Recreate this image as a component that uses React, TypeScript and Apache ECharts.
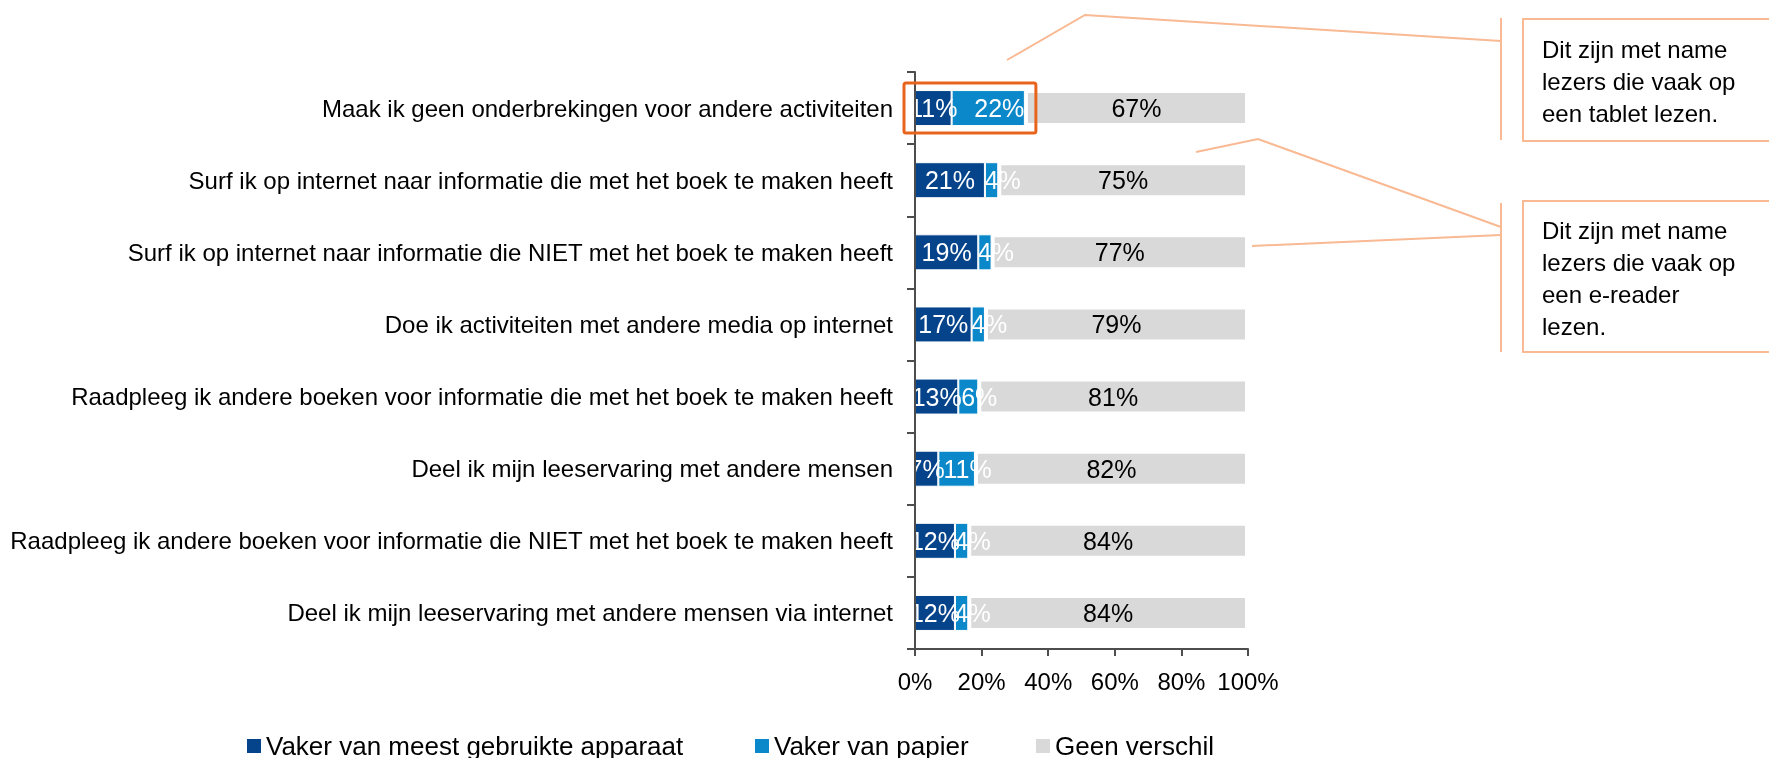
import React, { useEffect, useRef } from "react";
import * as echarts from "echarts";

const categories = [
  "Maak ik geen onderbrekingen voor andere activiteiten",
  "Surf ik op internet naar informatie die met het boek te maken heeft",
  "Surf ik op internet naar informatie die NIET met het boek te maken heeft",
  "Doe ik activiteiten met andere media op internet",
  "Raadpleeg ik andere boeken voor informatie die met het boek te maken heeft",
  "Deel ik mijn leeservaring met andere mensen",
  "Raadpleeg ik andere boeken voor informatie die NIET met het boek te maken heeft",
  "Deel ik mijn leeservaring met andere mensen via internet",
];
const seriesNames = ["Vaker van meest gebruikte apparaat", "Vaker van papier", "Geen verschil"];
const apparaat = [11, 21, 19, 17, 13, 7, 12, 12];
const papier = [22, 4, 4, 4, 6, 11, 4, 4];
const geenVerschil = [67, 75, 77, 79, 81, 82, 84, 84];
const xTicks = [0, 20, 40, 60, 80, 100];
const noteTablet = ["Dit zijn met name", "lezers die vaak op", "een tablet lezen."];
const noteEreader = ["Dit zijn met name", "lezers die vaak op", "een e-reader", "lezen."];

const FONT = '"Liberation Sans", Arial, sans-serif';
const DARK = "#05448B";
const MID = "#0A88CA";
const GRAY = "#D9D9D9";
const PEACH = "#F8B993";
const ORANGE = "#E8641C";
const GRID_LEFT = 915;

export default function App() {
  const ref = useRef<HTMLDivElement>(null);
  useEffect(() => {
    document.body.style.margin = "0";
    const chart = echarts.init(ref.current!, null, { renderer: "svg" });
    const labelBase = { show: true, position: "inside", fontSize: 25, fontFamily: FONT, formatter: "{c}%" };
    chart.setOption({
      animation: false,
      grid: { left: GRID_LEFT, right: 521, top: 72, bottom: 109, containLabel: false },
      xAxis: {
        type: "value",
        min: xTicks[0],
        max: xTicks[xTicks.length - 1],
        interval: 20,
        axisLine: { show: true, lineStyle: { color: "#4d4d4d", width: 2 } },
        axisTick: { show: true, length: 7, lineStyle: { color: "#4d4d4d", width: 2 } },
        splitLine: { show: false },
        axisLabel: { formatter: "{value}%", fontSize: 24, fontFamily: FONT, color: "#000", margin: 20 },
      },
      yAxis: {
        type: "category",
        data: categories,
        inverse: true,
        z: 5,
        axisLine: { show: true, lineStyle: { color: "#4d4d4d", width: 2 } },
        axisTick: { show: true, length: 8, lineStyle: { color: "#4d4d4d", width: 2 } },
        axisLabel: { fontSize: 24, fontFamily: FONT, color: "#000", margin: 22 },
      },
      legend: [0, 1, 2].map((i) => ({
        data: [seriesNames[i]],
        left: [247, 755, 1036][i],
        top: 733,
        padding: 0,
        icon: "rect",
        itemWidth: 14,
        itemHeight: 14,
        itemGap: 0,
        itemTextGap: 5,
        itemStyle: { borderWidth: 0 },
        textStyle: { fontSize: 26, fontFamily: FONT, color: "#000" },
      })),
      series: [
        {
          name: seriesNames[0],
          type: "bar",
          stack: "total",
          barWidth: 36,
          data: apparaat,
          itemStyle: { color: DARK, borderColor: "#fff", borderWidth: 1 },
          label: { ...labelBase, color: "#fff" },
          labelLayout: (params: any) => {
            const r = params.labelRect;
            const minX = GRID_LEFT - 3;
            return r && r.x < minX ? { dx: minX - r.x } : {};
          },
        },
        {
          name: seriesNames[1],
          type: "bar",
          stack: "total",
          barWidth: 36,
          data: papier,
          itemStyle: { color: MID, borderColor: "#fff", borderWidth: 1 },
          label: { ...labelBase, color: "#fff", offset: [11, 0] },
        },
        {
          name: seriesNames[2],
          type: "bar",
          stack: "total",
          barWidth: 36,
          data: geenVerschil,
          itemStyle: { color: GRAY, borderColor: "#fff", borderWidth: 3 },
          label: { ...labelBase, color: "#000" },
        },
      ],
    });

    const x0 = chart.convertToPixel({ xAxisIndex: 0 }, 0) as number;
    const x1 = chart.convertToPixel({ xAxisIndex: 0 }, apparaat[0] + papier[0]) as number;
    const yc = chart.convertToPixel({ yAxisIndex: 0 }, categories[0]) as number;

    const line = (points: number[][]) => ({
      type: "polyline",
      shape: { points },
      style: { stroke: PEACH, lineWidth: 2, fill: null },
      silent: true,
    });
    const noteText = (lines: string[], x: number, y: number) => ({
      type: "text",
      x,
      y,
      style: {
        text: lines.join("\n"),
        fontSize: 24,
        fontFamily: FONT,
        fill: "#000",
        lineHeight: 32,
        verticalAlign: "top",
      },
      silent: true,
    });

    chart.setOption({
      graphic: [
        {
          type: "rect",
          shape: { x: x0 - 11, y: yc - 25, width: x1 - x0 + 22, height: 50, r: 2 },
          style: { stroke: ORANGE, lineWidth: 3, fill: null },
          z: 10,
        },
        line([[1007, 60], [1085, 15], [1501, 41]]),
        line([[1501, 18], [1501, 140]]),
        { type: "rect", shape: { x: 1523, y: 19, width: 260, height: 122 }, style: { stroke: PEACH, lineWidth: 2, fill: "#fff" } },
        noteText(noteTablet, 1542, 33),
        line([[1196, 152], [1258, 139], [1501, 227]]),
        line([[1252, 246], [1501, 235]]),
        line([[1501, 203], [1501, 352]]),
        { type: "rect", shape: { x: 1523, y: 201, width: 260, height: 151 }, style: { stroke: PEACH, lineWidth: 2, fill: "#fff" } },
        noteText(noteEreader, 1542, 214),
      ],
    });

    return () => chart.dispose();
  }, []);
  return <div ref={ref} style={{ position: "fixed", left: 0, top: 0, width: 1769, height: 758 }} />;
}
